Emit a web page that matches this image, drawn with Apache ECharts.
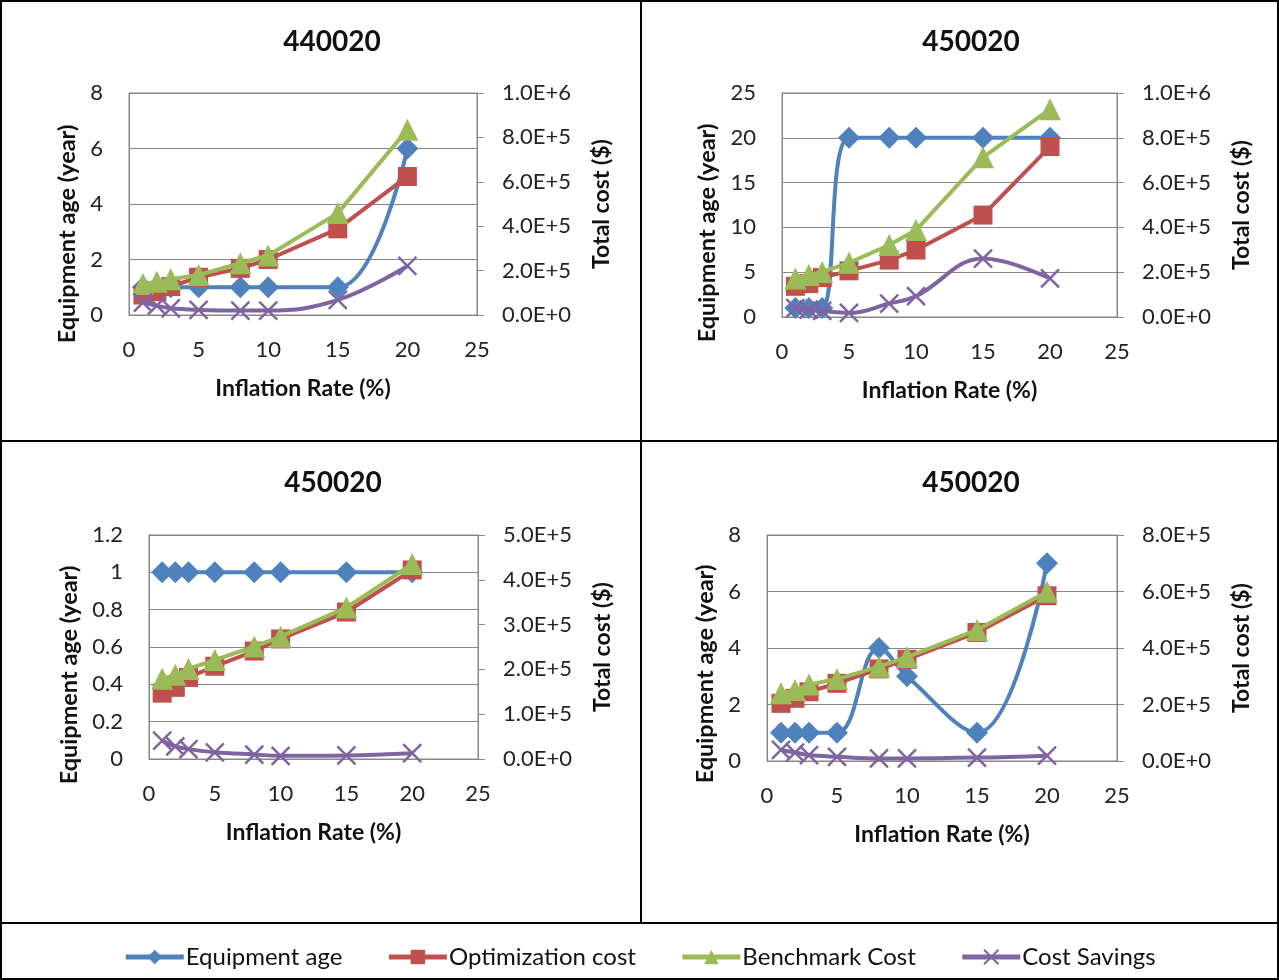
<!DOCTYPE html>
<html>
<head>
<meta charset="utf-8">
<script src="https://cdn.jsdelivr.net/npm/echarts@6/dist/echarts.min.js"></script>
<style>
  html, body { margin: 0; padding: 0; background: #ffffff; }
  #chart { width: 1279px; height: 980px; }
</style>
</head>
<body>
<div id="chart"></div>
<script>
// ---- data ----
const inflationRate = [1, 2, 3, 5, 8, 10, 15, 20];
const seriesNames = ['Equipment age', 'Optimization cost', 'Benchmark Cost', 'Cost Savings'];
const panelTitles = ['440020', '450020', '450020', '450020'];

// 440020
const age1 = [1, 1, 1, 1, 1, 1, 1, 6];
const optCost1 = [90000, 105000, 128000, 170000, 210000, 250000, 388000, 624000];
const benchCost1 = [140000, 150000, 161000, 180000, 233000, 268000, 459000, 835000];
const savings1 = [56000, 42000, 30000, 23000, 20000, 20000, 68000, 221000];

// 450020 (top right)
const age2 = [1, 1, 1, 20, 20, 20, 20, 20];
const optCost2 = [137000, 149000, 176000, 206000, 254000, 299000, 455000, 761000];
const benchCost2 = [172000, 187000, 201000, 242000, 321000, 388000, 713000, 928000];
const savings2 = [40000, 33000, 27000, 18000, 60000, 93000, 261000, 172000];

// 450020 (bottom left)
const age3 = [1, 1, 1, 1, 1, 1, 1, 1];
const optCost3 = [147000, 160000, 182000, 207000, 241000, 268000, 328000, 422000];
const benchCost3 = [179000, 188000, 201000, 221000, 251000, 273000, 338000, 435000];
const savings3 = [41000, 28000, 22000, 15000, 10000, 7000, 8000, 13000];

// 450020 (bottom right)
const age4 = [1, 1, 1, 1, 4, 3, 1, 7];
const optCost4 = [204000, 222000, 245000, 275000, 326000, 360000, 455000, 585000];
const benchCost4 = [240000, 251000, 271000, 290000, 334000, 368000, 464000, 599000];
const savings4 = [39000, 30000, 21000, 15000, 9000, 9000, 12000, 19000];

// axis ranges
const xTicks = { min: 0, max: 25, step: 5 };
const ageAxisMax = [8, 25, 1.2, 8];
const ageAxisStep = [2, 5, 0.2, 2];
const costAxisMax = [1000000, 1000000, 500000, 800000];
const costAxisStep = [200000, 200000, 100000, 200000];

const panelData = [
  [age1, optCost1, benchCost1, savings1],
  [age2, optCost2, benchCost2, savings2],
  [age3, optCost3, benchCost3, savings3],
  [age4, optCost4, benchCost4, savings4]
];

// ---- layout & style ----
const FONT = 'Lato, "Open Sans", sans-serif';
const GRAY = '#878787';
const COLORS = ['#4f81bd', '#c0504d', '#9bbb59', '#8064a2'];
const SYMBOLS = ['diamond', 'rect', 'triangle', 'path://M0,0L10,10M10,0L0,10'];
const SYMBOL_SIZES = [22, 19, 22, 18];

const plots = [
  { left: 129, top: 93,  width: 348, height: 222, titleX: 332, titleY: 28,  ageGap: 50, agePad: 60 },
  { left: 782, top: 93,  width: 335, height: 224, titleX: 971, titleY: 28,  ageGap: 63, agePad: 56 },
  { left: 149, top: 535, width: 329, height: 224, titleX: 333, titleY: 469, ageGap: 68, agePad: 56 },
  { left: 767, top: 535, width: 350, height: 226, titleX: 971, titleY: 469, ageGap: 50, agePad: 52 }
];

function toPairs(ys) { return inflationRate.map((x, i) => [x, ys[i]]); }
function sci(v) { return Number(v).toExponential(1).toUpperCase(); }

const grid = [], xAxis = [], yAxis = [], series = [], title = [];

plots.forEach((p, i) => {
  grid.push({
    left: p.left, top: p.top, width: p.width, height: p.height,
    show: true, borderColor: GRAY, borderWidth: 1, backgroundColor: '#fff',
    containLabel: false
  });
  title.push({
    text: panelTitles[i], left: p.titleX, top: p.titleY, textAlign: 'center', padding: 0,
    textStyle: { fontFamily: FONT, fontSize: 28, fontWeight: 'bold', color: '#111' }
  });
  xAxis.push({
    type: 'value', gridIndex: i, min: xTicks.min, max: xTicks.max, interval: xTicks.step,
    name: 'Inflation Rate (%)', nameLocation: 'middle', nameGap: 62,
    nameTextStyle: { fontFamily: FONT, fontSize: 23, fontWeight: 'bold', color: '#111' },
    axisLine: { show: true, lineStyle: { color: GRAY, width: 1 } },
    axisTick: { show: false },
    splitLine: { show: false },
    axisLabel: { fontFamily: FONT, fontSize: 22, color: '#222', margin: 24 }
  });
  yAxis.push({
    type: 'value', gridIndex: i, position: 'left', min: 0, max: ageAxisMax[i], interval: ageAxisStep[i],
    name: 'Equipment age (year)', nameLocation: 'middle', nameGap: p.ageGap,
    nameTextStyle: { fontFamily: FONT, fontSize: 23.5, fontWeight: 'bold', color: '#111', padding: [0, p.agePad, 0, 0] },
    axisLine: { show: true, lineStyle: { color: GRAY, width: 1 } },
    axisTick: { show: false },
    splitLine: { show: true, lineStyle: { color: GRAY, width: 1 } },
    axisLabel: { fontFamily: FONT, fontSize: 22, color: '#222', margin: 26 }
  });
  yAxis.push({
    type: 'value', gridIndex: i, position: 'right', min: 0, max: costAxisMax[i], interval: costAxisStep[i],
    name: 'Total cost ($)', nameLocation: 'middle', nameGap: 113,
    nameTextStyle: { fontFamily: FONT, fontSize: 23, fontWeight: 'bold', color: '#111' },
    axisLine: { show: true, lineStyle: { color: GRAY, width: 1 } },
    axisTick: { show: true, inside: false, length: 7, lineStyle: { color: GRAY, width: 1 } },
    splitLine: { show: false },
    axisLabel: { fontFamily: FONT, fontSize: 22, color: '#222', margin: 25, formatter: sci }
  });

  panelData[i].forEach((values, s) => {
    series.push({
      type: 'line', name: seriesNames[s],
      xAxisIndex: i, yAxisIndex: s === 0 ? 2 * i : 2 * i + 1,
      data: toPairs(values),
      smooth: (s === 0 || s === 3) ? 0.4 : false,
      symbol: SYMBOLS[s], symbolSize: SYMBOL_SIZES[s],
      lineStyle: { color: COLORS[s], width: 4 },
      itemStyle: s === 3
        ? { color: COLORS[s], borderColor: COLORS[s], borderWidth: 2.5 }
        : { color: COLORS[s], borderColor: COLORS[s], borderWidth: 0 },
      emphasis: { disabled: true },
      z: 2 + s
    });
  });
});

// table borders around the panels and legend row
const graphic = [
  { type: 'rect', shape: { x: 1, y: 1, width: 1277, height: 978 }, style: { fill: 'none', stroke: '#000', lineWidth: 2 }, silent: true },
  { type: 'line', shape: { x1: 641, y1: 0, x2: 641, y2: 923 }, style: { stroke: '#000', lineWidth: 2 }, silent: true },
  { type: 'line', shape: { x1: 0, y1: 441, x2: 1279, y2: 441 }, style: { stroke: '#000', lineWidth: 2 }, silent: true },
  { type: 'line', shape: { x1: 0, y1: 923, x2: 1279, y2: 923 }, style: { stroke: '#000', lineWidth: 2 }, silent: true }
];

const chart = echarts.init(document.getElementById('chart'), null, { renderer: 'canvas' });
chart.setOption({
  animation: false,
  backgroundColor: '#ffffff',
  title, grid, xAxis, yAxis, series, graphic,
  legend: {
    data: seriesNames,
    left: 'center', top: 940,
    itemWidth: 58, itemHeight: 18, itemGap: 44,
    lineStyle: { width: 5 },
    textStyle: { fontFamily: FONT, fontSize: 24, color: '#111', padding: [0, 0, 0, -3] }
  }
});
</script>
</body>
</html>
